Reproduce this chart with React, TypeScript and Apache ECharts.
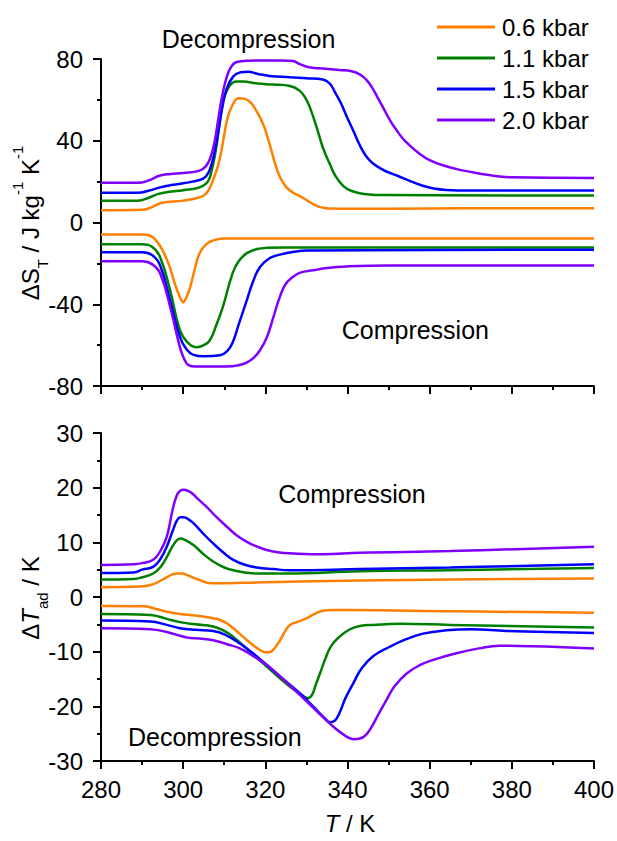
import React, { useEffect, useRef } from "react";
import * as echarts from "echarts";

// ---------- Data (T in K) ----------
const seriesNames = ["0.6 kbar", "1.1 kbar", "1.5 kbar", "2.0 kbar"];
const seriesColors = ["#FF8000", "#008000", "#0000FF", "#8000FF"];

const xTicks = [280, 300, 320, 340, 360, 380, 400];
const yTicksS = [-80, -40, 0, 40, 80];
const yTicksT = [-30, -20, -10, 0, 10, 20, 30];

// Top panel: entropy change, decompression (positive)
const T_Sdec06 = [280, 290, 292, 294.4, 296, 300, 304, 305.5, 306.5, 307.5, 308.5, 309.3, 310, 310.8, 312, 313.5, 315, 316.5, 318, 319.5, 320.5, 321.5, 322.5, 323.5, 324.5, 325.5, 327, 328.5, 330, 331.5, 333, 334.5, 336, 340, 360, 400];
const S_dec06 = [6, 6.2, 7.2, 9.4, 10, 10.7, 12.3, 14, 17, 22, 28, 35, 43, 51, 57.5, 60.8, 60.5, 58.5, 54, 48, 42, 35, 28, 22.5, 19, 16.5, 14.3, 12.8, 11, 9.2, 7.8, 7.1, 6.8, 6.7, 6.9, 7];
const T_Sdec11 = [280, 289, 291.5, 294, 296.5, 300, 304, 306, 307, 308, 309, 309.8, 311.4, 313, 314.5, 318, 322, 326, 328.4, 330, 331, 332.5, 334, 335.7, 337, 339, 341, 344, 350, 400];
const S_dec11 = [10.7, 10.7, 12, 14, 15, 15.8, 17.2, 20, 26, 36, 50, 60, 67.2, 69, 69, 68, 67.5, 66.8, 64.4, 60, 55.5, 46.5, 36.7, 28.6, 23, 17.8, 15.4, 14, 13.4, 13.2];
const T_Sdec15 = [280, 289, 291.5, 294.4, 297, 300, 304, 305.5, 306.5, 307.5, 308.5, 309.5, 310.6, 312.2, 314, 315.8, 318, 321, 326, 330, 334, 335.7, 337, 338.5, 340, 341.5, 343, 344.5, 346, 348, 350, 352, 355, 358, 361, 364, 370, 400];
const S_dec15 = [14.5, 14.5, 15.5, 17.2, 18.3, 19.2, 20.8, 22.5, 26, 33, 44, 56, 65.5, 71.5, 73.5, 73.8, 72.8, 71.7, 71.1, 70.6, 70, 68, 63.5, 58, 51, 44.5, 37.8, 32.5, 29.2, 26.5, 24.5, 23, 20.5, 18.2, 16.6, 15.9, 15.6, 15.6];
const T_Sdec20 = [280, 289, 291.5, 294.4, 297, 300, 304, 305.5, 306.5, 307.5, 308.5, 309.5, 310.5, 311.5, 313, 316, 320, 324, 326.7, 328.4, 331, 334, 338, 341, 343, 344.5, 346, 347.5, 349, 350.5, 352, 353.5, 355, 357, 360, 364, 368, 372, 376, 380, 400];
const S_dec20 = [19.4, 19.4, 20.5, 23, 23.7, 24.2, 25.4, 27.5, 31, 38, 50, 62, 70.5, 75.5, 78.5, 79.2, 79.3, 79.3, 79, 77.5, 75.8, 75.3, 74.6, 74, 72.5, 70, 66, 60.5, 55, 49.5, 45, 41, 38, 34.5, 30.5, 27.5, 25.5, 24, 22.8, 22.1, 21.8];

// Top panel: entropy change, compression (negative)
const T_Scomp06 = [280, 290, 292, 293.5, 295, 296.5, 298, 299.2, 300, 300.8, 301.7, 302.8, 304, 305.5, 307.3, 309.7, 320, 400];
const S_comp06 = [-5.9, -5.9, -6.5, -9, -13.7, -20.5, -30, -36.5, -39, -36.5, -31.7, -23, -15, -10.8, -8.8, -7.8, -7.8, -7.8];
const T_Scomp11 = [280, 290, 292.5, 294.4, 296.8, 299.2, 301, 303.3, 305, 306.5, 308, 309.7, 312, 313.5, 315.5, 318, 320.4, 325, 400];
const S_comp11 = [-10.7, -10.7, -12, -17, -33, -52.7, -58.5, -61, -60, -57.6, -50.5, -41, -25, -19, -15, -13, -12.4, -12.2, -12.2];
const T_Scomp15 = [280, 290, 292.5, 294.4, 296.8, 299.2, 300.8, 302.5, 305, 309, 310.7, 312, 313.5, 315.5, 317, 318.7, 321, 323.6, 327, 330, 400];
const S_comp15 = [-14.5, -14.5, -16, -21, -38, -56, -62, -64.8, -65.5, -65, -63, -59, -50, -38, -29, -21.8, -17.5, -15.7, -14.3, -13.7, -13.3];
const T_Scomp20 = [280, 290, 292.5, 294.4, 296.8, 299.2, 300.3, 301.3, 303, 308, 312, 315, 317, 318.7, 320.4, 322, 323.6, 325, 326.7, 328.5, 331.6, 335, 339.8, 350, 400];
const S_comp20 = [-19, -19, -20.5, -25, -41, -61, -67, -69.8, -70.5, -70.5, -70.3, -69, -66.5, -62.5, -56, -46, -36, -30, -26.7, -24.5, -23.4, -22.3, -21.5, -21, -21];

// Bottom panel: adiabatic temperature change, compression (positive)
const T_Tcomp06 = [280, 289.5, 291.5, 293.5, 296, 298.4, 299.8, 301, 304, 307, 320, 343, 365, 400];
const dT_comp06 = [1.8, 1.9, 2.1, 2.6, 3.6, 4.3, 4.3, 4, 3.1, 2.5, 2.7, 3, 3.2, 3.4];
const T_Tcomp11 = [280, 288, 290, 292.7, 294.5, 296, 297.5, 298.5, 299.3, 300.3, 302.5, 305, 307.3, 310, 312.2, 315, 318, 325, 343, 365, 400];
const dT_comp11 = [3.2, 3.3, 3.6, 4.3, 5.5, 7.3, 9.4, 10.4, 10.7, 10.5, 9.5, 7.8, 6.5, 5.4, 4.9, 4.5, 4.3, 4.3, 4.7, 4.9, 5.3];
const T_Tcomp15 = [280, 288, 290, 292.7, 294.5, 296, 297.5, 298.5, 299.3, 300.2, 301.3, 302.5, 305, 307.3, 310, 312.2, 315, 317.9, 322, 326, 343, 365, 400];
const dT_comp15 = [4.4, 4.5, 5, 5.5, 7, 9.2, 12.2, 14, 14.6, 14.6, 14.2, 13.5, 11.5, 9.8, 8, 6.8, 5.9, 5.4, 5.1, 4.9, 5.1, 5.4, 6];
const T_Tcomp20 = [280, 288, 290, 292.7, 294.5, 296, 297.3, 298.3, 299.2, 300.2, 301.2, 302.3, 303.5, 305.7, 308, 310.6, 313, 315.5, 318, 320.3, 323, 326, 334, 343, 365, 400];
const dT_comp20 = [5.85, 6, 6.2, 6.8, 8.5, 11, 15.5, 18.3, 19.4, 19.6, 19.4, 18.9, 18, 16.5, 14.7, 12.9, 11.3, 10.1, 9.2, 8.6, 8.2, 8, 7.8, 8.1, 8.4, 9.2];

// Bottom panel: adiabatic temperature change, decompression (negative)
const T_Tdec06 = [280, 290.5, 293, 296, 299.2, 303, 307.3, 309, 310.6, 312.5, 314.6, 316.5, 318.7, 320, 321, 322, 323, 323.6, 324.8, 326, 328, 330, 332, 334, 336, 340.6, 365, 400];
const dT_dec06 = [-1.65, -1.7, -2.1, -2.7, -3.1, -3.4, -3.9, -4.2, -4.8, -5.9, -7.3, -8.5, -9.7, -10.1, -10.1, -9.6, -8.6, -7.9, -6.3, -5.1, -4.5, -3.9, -3.1, -2.5, -2.4, -2.4, -2.6, -2.9];
const T_Tdec11 = [280, 292, 296, 299.2, 303, 307.3, 310, 312.2, 316, 320.3, 323, 326, 329, 330.3, 331.3, 332.3, 333.3, 334.5, 336, 338, 340.6, 343, 346.3, 352.7, 365, 400];
const dT_dec11 = [-3.1, -3.3, -4, -4.6, -5, -5.4, -6.2, -7.3, -9.8, -12.7, -14.5, -16.4, -18, -18.5, -18, -16, -14, -11.5, -9, -7.3, -5.9, -5.3, -5.1, -4.9, -5.1, -5.6];
const T_Tdec15 = [280, 292, 296, 299.2, 303, 307.3, 310.5, 313.8, 317, 320.3, 324, 328.4, 332, 334.5, 335.7, 336.8, 338, 339.5, 341.4, 343.5, 346.3, 350.3, 354, 358.4, 364, 370, 378.7, 400];
const dT_dec15 = [-4.3, -4.5, -5.1, -5.7, -6, -6.2, -7, -8.5, -10.3, -12.4, -14.8, -17.6, -20.3, -22.2, -22.9, -22.7, -21.3, -18.5, -15.8, -13, -10.8, -9.1, -7.8, -6.7, -6.1, -5.9, -6.2, -6.6];
const T_Tdec20 = [280, 292, 296, 300.9, 304, 307.3, 310.5, 313.8, 317, 320.3, 324, 328.4, 332, 336.5, 339.5, 341.5, 343, 344.5, 346, 347.5, 349.5, 351.5, 354.4, 357.5, 360.9, 366.5, 372, 377, 385, 400];
const dT_dec20 = [-5.7, -5.9, -6.4, -7.4, -7.6, -7.9, -8.6, -9.4, -10.8, -12.4, -14.8, -17.9, -20.5, -23.7, -25.4, -26, -25.9, -25.2, -23.6, -21.5, -18.8, -16.3, -14, -12.5, -11.5, -10.3, -9.4, -8.9, -9, -9.4];

const FONT = '"Liberation Sans", Arial, Helvetica, sans-serif';

const pair = (t: number[], v: number[]) => t.map((x, i) => [x, v[i]]);

function makeSeries(idx: number, panel: number, t: number[], v: number[]) {
  return {
    type: "line",
    name: seriesNames[idx],
    xAxisIndex: panel,
    yAxisIndex: panel,
    data: pair(t, v),
    symbol: "none",
    smooth: 0.45,
    lineStyle: { color: seriesColors[idx], width: 2.5 },
    itemStyle: { color: seriesColors[idx] },
    z: 2 + idx,
  };
}

const richStyles = {
  b: { fontSize: 24, fontFamily: FONT, fill: "#000", lineHeight: 40 },
  i: { fontSize: 24, fontFamily: FONT, fill: "#000", lineHeight: 40, fontStyle: "italic" },
  sub: { fontSize: 15, fontFamily: FONT, fill: "#000", lineHeight: 31, verticalAlign: "bottom" },
  sup: { fontSize: 15, fontFamily: FONT, fill: "#000", lineHeight: 12, verticalAlign: "top" },
};

export default function App() {
  const ref = useRef<HTMLDivElement>(null);
  useEffect(() => {
    if (!ref.current) return;
    const chart = echarts.init(ref.current, null, { renderer: "svg" });
    const axisBase = {
      type: "value",
      axisLine: { show: true, onZero: false, lineStyle: { color: "#000", width: 2 } },
      axisTick: { show: true, inside: false, length: 8, lineStyle: { color: "#000", width: 2 } },
      minorTick: { show: true, splitNumber: 2, length: 4, lineStyle: { color: "#000", width: 2 } },
      splitLine: { show: false },
      minorSplitLine: { show: false },
    };
    const labelStyle = { color: "#000", fontSize: 24, fontFamily: FONT };
    const option: any = {
      animation: false,
      backgroundColor: "#fff",
      textStyle: { fontFamily: FONT },
      grid: [
        { left: 101, right: 23, top: 59, height: 327 },
        { left: 101, right: 23, top: 433, height: 328 },
      ],
      xAxis: [
        {
          ...axisBase,
          gridIndex: 0,
          min: xTicks[0],
          max: xTicks[xTicks.length - 1],
          interval: 20,
          axisLabel: { show: false },
        },
        {
          ...axisBase,
          gridIndex: 1,
          min: xTicks[0],
          max: xTicks[xTicks.length - 1],
          interval: 20,
          axisLabel: { ...labelStyle, margin: 16 },
        },
      ],
      yAxis: [
        {
          ...axisBase,
          gridIndex: 0,
          min: yTicksS[0],
          max: yTicksS[yTicksS.length - 1],
          interval: 40,
          axisLabel: { ...labelStyle, margin: 18 },
        },
        {
          ...axisBase,
          gridIndex: 1,
          min: yTicksT[0],
          max: yTicksT[yTicksT.length - 1],
          interval: 10,
          axisLabel: { ...labelStyle, margin: 18 },
        },
      ],
      legend: {
        orient: "vertical",
        left: 432,
        top: 10,
        itemWidth: 58,
        itemHeight: 3,
        itemGap: 7,
        icon: "rect",
        data: seriesNames,
        textStyle: { color: "#000", fontSize: 24, fontFamily: FONT, lineHeight: 24, padding: [0, 0, 0, 2] },
      },
      graphic: [
        { type: "text", x: 161.7, y: 38.5, style: { text: "Decompression", fontSize: 25, fontFamily: FONT, fill: "#000", align: "left", verticalAlign: "middle" } },
        { type: "text", x: 341.7, y: 330, style: { text: "Compression", fontSize: 25, fontFamily: FONT, fill: "#000", align: "left", verticalAlign: "middle" } },
        { type: "text", x: 278.3, y: 493.5, style: { text: "Compression", fontSize: 25, fontFamily: FONT, fill: "#000", align: "left", verticalAlign: "middle" } },
        { type: "text", x: 128, y: 736.7, style: { text: "Decompression", fontSize: 25, fontFamily: FONT, fill: "#000", align: "left", verticalAlign: "middle" } },
        {
          type: "text",
          x: 30,
          y: 223,
          rotation: Math.PI / 2,
          style: {
            text: "{b|ΔS}{sub|T}{b| / J kg}{sup|-1}{b| K}{sup|-1}",
            rich: richStyles,
            align: "center",
            verticalAlign: "middle",
          },
        },
        {
          type: "text",
          x: 30,
          y: 598,
          rotation: Math.PI / 2,
          style: {
            text: "{b|Δ}{i|T}{sub|ad}{b| / K}",
            rich: richStyles,
            align: "center",
            verticalAlign: "middle",
          },
        },
        {
          type: "text",
          x: 350,
          y: 823,
          style: {
            text: "{i|T}{b| / K}",
            rich: richStyles,
            align: "center",
            verticalAlign: "middle",
          },
        },
      ],
      series: [
        makeSeries(0, 0, T_Sdec06, S_dec06),
        makeSeries(1, 0, T_Sdec11, S_dec11),
        makeSeries(2, 0, T_Sdec15, S_dec15),
        makeSeries(3, 0, T_Sdec20, S_dec20),
        makeSeries(0, 0, T_Scomp06, S_comp06),
        makeSeries(1, 0, T_Scomp11, S_comp11),
        makeSeries(2, 0, T_Scomp15, S_comp15),
        makeSeries(3, 0, T_Scomp20, S_comp20),
        makeSeries(0, 1, T_Tcomp06, dT_comp06),
        makeSeries(1, 1, T_Tcomp11, dT_comp11),
        makeSeries(2, 1, T_Tcomp15, dT_comp15),
        makeSeries(3, 1, T_Tcomp20, dT_comp20),
        makeSeries(0, 1, T_Tdec06, dT_dec06),
        makeSeries(1, 1, T_Tdec11, dT_dec11),
        makeSeries(2, 1, T_Tdec15, dT_dec15),
        makeSeries(3, 1, T_Tdec20, dT_dec20),
      ],
    };
    chart.setOption(option);
    return () => chart.dispose();
  }, []);
  return (
    <div
      ref={ref}
      style={{ position: "fixed", left: 0, top: 0, width: 617, height: 841, background: "#fff" }}
    />
  );
}
